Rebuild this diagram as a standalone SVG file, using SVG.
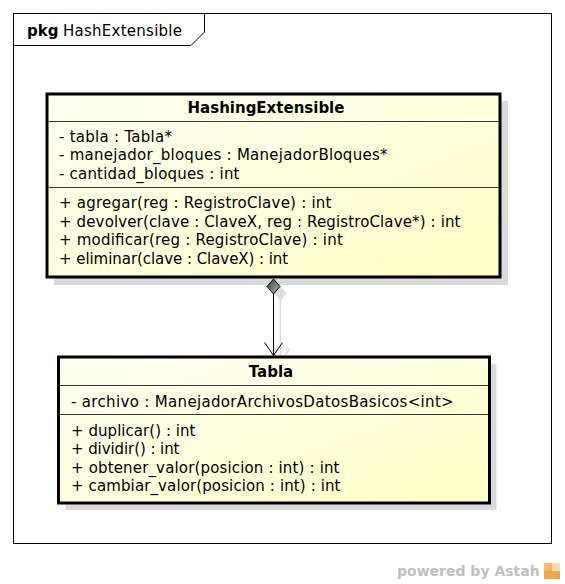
<svg xmlns="http://www.w3.org/2000/svg" width="565" height="584" viewBox="0 0 565 584">
  <defs>
    <linearGradient id="classFill" x1="0" y1="0" x2="1" y2="1">
      <stop offset="0" stop-color="#fffff4"/>
      <stop offset="1" stop-color="#ffffc6"/>
    </linearGradient>
    <linearGradient id="diamondFill" x1="0" y1="0" x2="1" y2="1">
      <stop offset="0" stop-color="#3c3c3c"/>
      <stop offset="1" stop-color="#b4b4b4"/>
    </linearGradient>
    <linearGradient id="logoFill" x1="0" y1="0" x2="1" y2="1">
      <stop offset="0" stop-color="#f7c27a"/>
      <stop offset="1" stop-color="#f09a3c"/>
    </linearGradient>
  </defs>
  <style>
    text { font-family: "DejaVu Sans", "Liberation Sans", sans-serif; font-size: 15px; fill: #000; }
    .bold { font-weight: bold; }
    .box { fill: url(#classFill); stroke: #000; stroke-width: 3; }
    .shadow { fill: #dadada; stroke: none; }
    .divider { stroke: #333; stroke-width: 1; }
    .frame { fill: none; stroke: #000; stroke-width: 1; }
    .conn { stroke: #000; stroke-width: 1; fill: none; }
    .connShadow { stroke: #dadada; stroke-width: 1.5; fill: none; }
    .wm { font-size: 14px; font-weight: bold; fill: #c0c0c0; }
  </style>
  <rect x="0" y="0" width="565" height="584" fill="#fff"/>

  <g id="package">
    <rect class="frame" x="13.5" y="13.5" width="538" height="530"/>
    <path class="frame" d="M13.5 45.5 H191 L204.5 32 V13.5"/>
    <text x="27" y="36" class="bold">pkg</text>
    <text x="63" y="36" textLength="119" lengthAdjust="spacing">HashExtensible</text>
  </g>

  <g id="shadows">
    <rect class="shadow" x="54" y="101" width="454" height="184"/>
    <rect class="shadow" x="65.5" y="364" width="431" height="146"/>
    <path class="connShadow" d="M280.5 301 V362"/>
    <polygon points="280.5,286 286.5,293.5 280.5,301 274.5,293.5" fill="#dedede"/>
    <path class="connShadow" d="M271.5 349 L280.5 362 L289.5 349"/>
  </g>

  <g id="HashingExtensible">
    <rect class="box" x="47" y="94" width="453" height="183"/>
    <line class="divider" x1="48.5" y1="121.5" x2="498.5" y2="121.5"/>
    <line class="divider" x1="48.5" y1="187.5" x2="498.5" y2="187.5"/>
    <text x="266" y="113" class="bold" text-anchor="middle">HashingExtensible</text>
    <text x="59" y="141.5" textLength="113" lengthAdjust="spacing">- tabla : Tabla*</text>
    <text x="59" y="160" textLength="328.5" lengthAdjust="spacing">- manejador_bloques : ManejadorBloques*</text>
    <text x="59" y="178.5" textLength="180.5" lengthAdjust="spacing">- cantidad_bloques : int</text>
    <text x="59" y="208" textLength="272.5" lengthAdjust="spacing">+ agregar(reg : RegistroClave) : int</text>
    <text x="59" y="226.5" textLength="401.5" lengthAdjust="spacing">+ devolver(clave : ClaveX, reg : RegistroClave*) : int</text>
    <text x="59" y="245" textLength="283.8" lengthAdjust="spacing">+ modificar(reg : RegistroClave) : int</text>
    <text x="59" y="263.5" textLength="229.2" lengthAdjust="spacing">+ eliminar(clave : ClaveX) : int</text>
  </g>

  <g id="Tabla">
    <rect class="box" x="58.5" y="357" width="431" height="146"/>
    <line class="divider" x1="60" y1="385.5" x2="488" y2="385.5"/>
    <line class="divider" x1="60" y1="414.5" x2="488" y2="414.5"/>
    <text x="271" y="376.5" class="bold" text-anchor="middle">Tabla</text>
    <text x="71" y="407" textLength="382.7" lengthAdjust="spacing">- archivo : ManejadorArchivosDatosBasicos&lt;int&gt;</text>
    <text x="71" y="435.5" textLength="124.5" lengthAdjust="spacing">+ duplicar() : int</text>
    <text x="71" y="454" textLength="108.5" lengthAdjust="spacing">+ dividir() : int</text>
    <text x="71" y="472.5" textLength="268.5" lengthAdjust="spacing">+ obtener_valor(posicion : int) : int</text>
    <text x="71" y="491" textLength="269.5" lengthAdjust="spacing">+ cambiar_valor(posicion : int) : int</text>
  </g>

  <g id="connectors">
    <path class="conn" d="M273.5 294 V355.5"/>
    <polygon points="273.5,279 280,286.5 273.5,294 267,286.5" fill="url(#diamondFill)" stroke="#000" stroke-width="1"/>
    <path class="conn" d="M264.5 342.5 L273.5 355.5 L282.5 342.5"/>
  </g>

  <g id="watermark">
    <text x="397" y="576" class="wm">powered by Astah</text>
    <rect x="544" y="563" width="16" height="16" fill="url(#logoFill)"/>
    <rect x="552" y="563" width="8" height="8" fill="#fbd9a8"/>
    <rect x="544" y="571" width="8" height="8" fill="#f3a54e"/>
  </g>
</svg>
